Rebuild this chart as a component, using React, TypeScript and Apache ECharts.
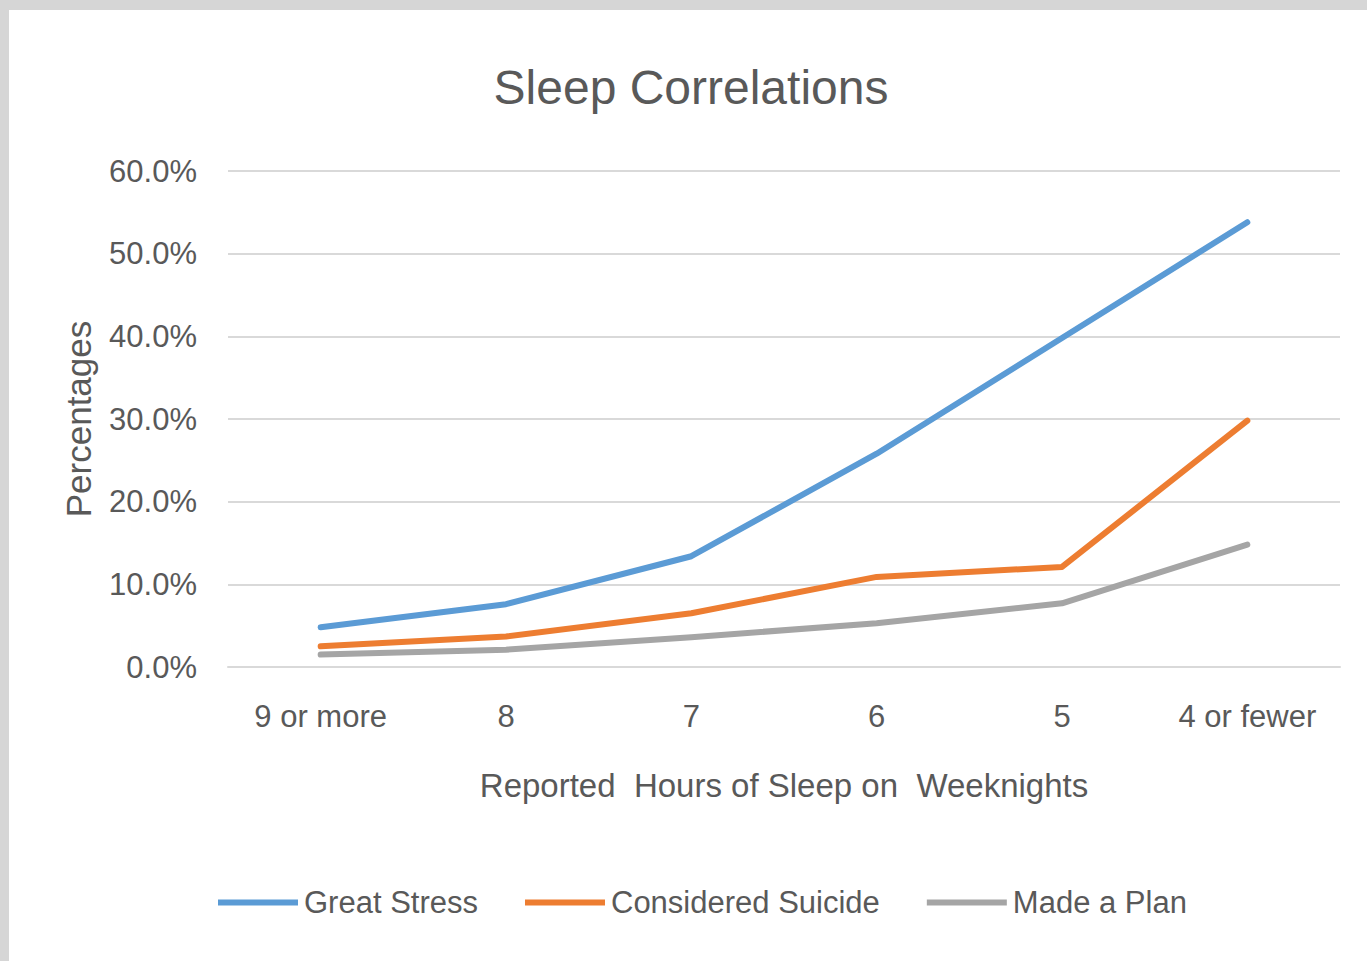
import React, { useEffect, useRef } from "react";
import * as echarts from "echarts";

const categories = ["9 or more", "8", "7", "6", "5", "4 or fewer"];
const greatStress = [4.8, 7.6, 13.4, 25.8, 39.8, 53.8];
const consideredSuicide = [2.5, 3.7, 6.5, 10.9, 12.1, 29.8];
const madeAPlan = [1.5, 2.1, 3.6, 5.3, 7.7, 14.8];
const yTicks = [0, 10, 20, 30, 40, 50, 60];

const FONT = "'Liberation Sans', sans-serif";
const TEXT = "#595959";

export default function App() {
  const ref = useRef<HTMLDivElement>(null);
  useEffect(() => {
    const chart = echarts.init(ref.current!, undefined, { renderer: "svg" });
    const mk = (name: string, data: number[], color: string) => ({
      name,
      type: "line",
      data,
      symbol: "none",
      lineStyle: { width: 6, color, cap: "round", join: "round" },
      itemStyle: { color },
    });
    chart.setOption({
      animation: false,
      backgroundColor: "#ffffff",
      title: {
        text: "Sleep Correlations",
        left: 677,
        top: 48,
        textAlign: "center",
        textStyle: { fontFamily: FONT, fontSize: 48, fontWeight: "normal", color: TEXT },
      },
      grid: { left: 219, right: 27, top: 161, bottom: 294 },
      xAxis: {
        type: "category",
        data: categories,
        boundaryGap: true,
        axisLine: { show: true, lineStyle: { color: "#d9d9d9", width: 2 } },
        axisTick: { show: false },
        axisLabel: { margin: 34, fontFamily: FONT, fontSize: 31, color: TEXT },
        name: "Reported  Hours of Sleep on  Weeknights",
        nameLocation: "middle",
        nameGap: 102,
        nameTextStyle: { fontFamily: FONT, fontSize: 33, color: TEXT },
      },
      yAxis: {
        type: "value",
        min: yTicks[0],
        max: yTicks[yTicks.length - 1],
        interval: 10,
        axisLine: { show: false },
        axisTick: { show: false },
        splitLine: { lineStyle: { color: "#d9d9d9", width: 2 } },
        axisLabel: {
          margin: 31,
          fontFamily: FONT,
          fontSize: 31,
          color: TEXT,
          formatter: (v: number) => v.toFixed(1) + "%",
        },
        name: "Percentages",
        nameLocation: "middle",
        nameRotate: 90,
        nameGap: 132,
        nameTextStyle: { fontFamily: FONT, fontSize: 35, color: TEXT },
      },
      legend: {
        left: 204,
        top: 872,
        icon: "rect",
        itemWidth: 80,
        itemHeight: 6,
        itemGap: 47,
        textStyle: { fontFamily: FONT, fontSize: 31, color: TEXT, padding: [0, 0, 0, 1] },
        data: ["Great Stress", "Considered Suicide", "Made a Plan"],
      },
      series: [
        mk("Great Stress", greatStress, "#5b9bd5"),
        mk("Considered Suicide", consideredSuicide, "#ed7d31"),
        mk("Made a Plan", madeAPlan, "#a5a5a5"),
      ],
    });
    return () => chart.dispose();
  }, []);
  return (
    <div
      style={{
        position: "fixed",
        left: 0,
        top: 0,
        width: 1367,
        height: 961,
        background: "#d6d6d6",
      }}
    >
      <div
        ref={ref}
        style={{ position: "absolute", left: 9, top: 10, width: 1358, height: 951, background: "#fff" }}
      />
    </div>
  );
}
